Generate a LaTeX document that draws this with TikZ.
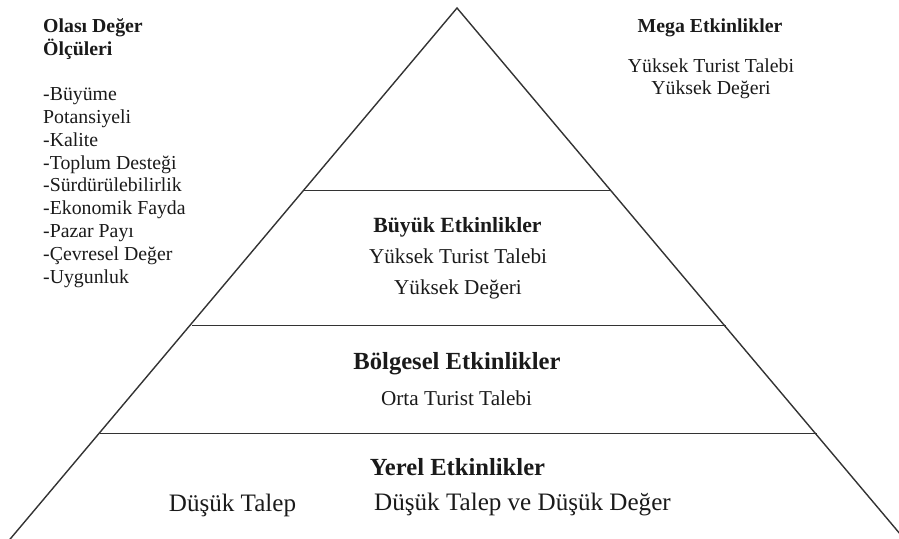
\documentclass[tikz,border=0pt]{standalone}
\usepackage{fontspec}
\setmainfont{Liberation Serif}
\definecolor{linec}{HTML}{333333}
\definecolor{txtc}{HTML}{1A1A1A}
\begin{document}
\begin{tikzpicture}[x=1pt,y=-1pt,
  edge/.style={draw=linec,line width=1.4pt},
  lbl/.style={anchor=base,inner sep=0pt,text=txtc},
  lft/.style={anchor=base west,inner sep=0pt,text=txtc,font=\fontsize{19.8}{22}\selectfont},
  sz20/.style={font=\fontsize{19.8}{22}\selectfont},
  sz20b/.style={font=\fontsize{19.8}{22}\selectfont\bfseries},
  sz21/.style={font=\fontsize{21.2}{24}\selectfont},
  sz21b/.style={font=\fontsize{21.7}{24}\selectfont\bfseries},
  sz25/.style={font=\fontsize{25.1}{28}\selectfont},
  sz25b/.style={font=\fontsize{24.6}{28}\selectfont\bfseries}]
\useasboundingbox (0,0) rectangle (899,538);
\begin{scope}
\clip (0,0) rectangle (899,538);
\coordinate (apex) at (457,8);
\coordinate (bl) at (8.5,541);
\coordinate (br) at (906,541);
\draw[edge,line join=miter] (bl) -- (apex) -- (br);
\coordinate (l1) at (303,190.5);
\coordinate (r1) at (611,190.5);
\coordinate (l2) at (192,325.5);
\coordinate (r2) at (726,325.5);
\coordinate (l3) at (100,433.5);
\coordinate (r3) at (817,433.5);
\draw[edge] (l1) -- (r1);
\draw[edge] (l2) -- (r2);
\draw[edge] (l3) -- (r3);
\end{scope}
% left list
\node[lft,font=\fontsize{19.8}{22}\selectfont\bfseries] (h1) at (43,32) {Olası Değer};
\node[lft,font=\fontsize{19.8}{22}\selectfont\bfseries] (h2) at (43,55) {Ölçüleri};
\node[lft] (i1) at (43,100) {-Büyüme};
\node[lft] (i2) at (43,123) {Potansiyeli};
\node[lft] (i3) at (43,146) {-Kalite};
\node[lft] (i4) at (43,169) {-Toplum Desteği};
\node[lft] (i5) at (43,191.5) {-Sürdürülebilirlik};
\node[lft] (i6) at (43,214.5) {-Ekonomik Fayda};
\node[lft] (i7) at (43,237.5) {-Pazar Payı};
\node[lft] (i8) at (43,260) {-Çevresel Değer};
\node[lft] (i9) at (43,283) {-Uygunluk};
% top right
\node[lbl,sz20b] (mega) at (710,32) {Mega Etkinlikler};
\node[lbl,sz20] (mega1) at (711,72) {Yüksek Turist Talebi};
\node[lbl,sz20] (mega2) at (711,94) {Yüksek Değeri};
% big
\node[lbl,sz21b] (buyuk) at (457.5,232) {Büyük Etkinlikler};
\node[lbl,sz21] (buyuk1) at (458,263) {Yüksek Turist Talebi};
\node[lbl,sz21] (buyuk2) at (458,294) {Yüksek Değeri};
% regional
\node[lbl,sz25b] (bolge) at (457,369) {Bölgesel Etkinlikler};
\node[lbl,sz21] (bolge1) at (456.5,405) {Orta Turist Talebi};
% local
\node[lbl,sz25b] (yerel) at (457.5,475) {Yerel Etkinlikler};
\node[lbl,sz25] (yerel1) at (522.5,510.5) {Düşük Talep ve Düşük Değer};
\node[lbl,sz25] (yerel2) at (232.5,511) {Düşük Talep};
\end{tikzpicture}
\end{document}
